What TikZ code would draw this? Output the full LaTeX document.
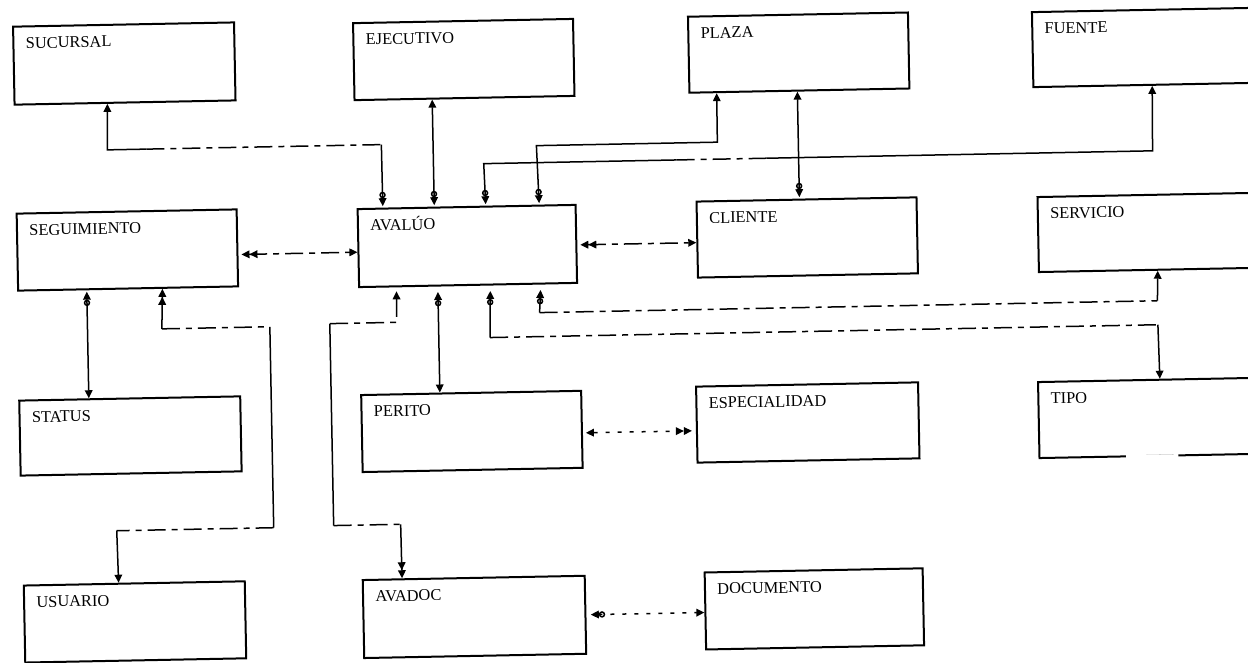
\documentclass[tikz,border=0pt]{standalone}
\usepackage{fontspec}
\setmainfont{Liberation Serif}
\usetikzlibrary{arrows.meta,calc}
\tikzset{
  ta/.tip={Triangle[length=4pt,width=3.8pt]},
  ts/.tip={Triangle[length=4pt,width=3.8pt,sep=0.7pt]},
  ci/.tip={Circle[open,length=3.2pt]},
  box/.style={draw, line width=1pt, inner sep=0pt, anchor=north west},
  lbl/.style={anchor=base west, inner sep=0pt, xshift=6.5pt, yshift=-11.5pt, font=\fontsize{8.2}{9}\selectfont},
  ttl/.style={label={[lbl]north west:#1}},
  con/.style={line width=0.75pt},
  dsh/.style={con, dash pattern=on 9pt off 3pt on 3pt off 3pt},
  dotl/.style={con, dash pattern=on 2pt off 4pt},
}
\begin{document}
\begin{tikzpicture}[x=0.5pt,y=-0.5pt]
\fill[white] (0,0) rectangle (1248,663);
\useasboundingbox (0,0) rectangle (1248,663);
\clip (0,0) rectangle (1248,663);
\begin{scope}[rotate around={1.1:(624,331)}, transform shape]
% boxes
\node[box, minimum width=110.5pt, minimum height=39pt, ttl=SUCURSAL] (suc) at (18,14) {};
\node[box, minimum width=110pt, minimum height=38.5pt, ttl=EJECUTIVO] (eje) at (358,17) {};
\node[box, minimum width=110pt, minimum height=38pt, ttl=PLAZA] (pla) at (693,17) {};
\node[box, minimum width=135pt, minimum height=37.5pt, ttl=FUENTE] (fue) at (1037,19) {};
\node[box, minimum width=110pt, minimum height=38.5pt, ttl=SEGUIMIENTO] (seg) at (18,201) {};
\node[box, minimum width=109pt, minimum height=39pt, ttl=AVALÚO] (ava) at (359,203) {};
\node[box, minimum width=110pt, minimum height=38pt, ttl=CLIENTE] (cli) at (698,202) {};
\node[box, minimum width=135pt, minimum height=37.5pt, ttl=SERVICIO] (ser) at (1039,204) {};
\node[box, minimum width=110.5pt, minimum height=37.5pt, ttl=STATUS] (sta) at (17,388) {};
\node[box, minimum width=110pt, minimum height=38.5pt, ttl=PERITO] (per) at (359,389) {};
\node[box, minimum width=111pt, minimum height=38pt, ttl=ESPECIALIDAD] (esp) at (694,387) {};
\node[box, minimum width=135pt, minimum height=38pt, ttl=TIPO] (tip) at (1036,389) {};
\node[box, minimum width=110.5pt, minimum height=38.5pt, ttl=USUARIO] (usu) at (18,573) {};
\node[box, minimum width=111pt, minimum height=39pt, ttl=AVADOC] (avd) at (357,574) {};
\node[box, minimum width=109pt, minimum height=38.5pt, ttl=DOCUMENTO] (doc) at (699,573) {};
% gap in the bottom line of TIPO
\draw[white, line width=2.2pt] ($(tip.south west)!0.3222!(tip.south east)$) -- ($(tip.south west)!0.5148!(tip.south east)$);
% 1 SUCURSAL - AVALUO
\coordinate (k1a) at (111,140);
\coordinate (k1b) at (150,140);
\coordinate (k1c) at (385,140);
\draw[con, {ta[]}-] ($(suc.south west)!0.4208!(suc.south east)$) -- (k1a) -- (k1b);
\draw[dsh] (k1b) -- (k1c);
\draw[con, -{ci[] ts[]}] (k1c) -- ($(ava.north west)!0.1193!(ava.north east)$);
% 2 EJECUTIVO - AVALUO
\draw[con, {ta[]}-{ci[] ts[]}] ($(eje.south west)!0.3545!(eje.south east)$) -- ($(ava.north west)!0.3532!(ava.north east)$);
% 3 PLAZA - AVALUO
\coordinate (k3a) at (721,144);
\coordinate (k3b) at (540,144);
\draw[con, {ta[]}-{ci[] ts[]}] ($(pla.south west)!0.1273!(pla.south east)$) -- (k3a) -- (k3b) -- ($(ava.north west)!0.8303!(ava.north east)$);
% 4 FUENTE - AVALUO
\coordinate (k4a) at (1156,161);
\coordinate (k4b) at (770,161);
\coordinate (k4c) at (680,161);
\coordinate (k4d) at (487,161);
\draw[con, {ta[]}-] ($(fue.south west)!0.4407!(fue.south east)$) -- (k4a) -- (k4b);
\draw[dsh] (k4b) -- (k4c);
\draw[con, -{ci[] ts[]}] (k4c) -- (k4d) -- ($(ava.north west)!0.5872!(ava.north east)$);
% 5 PLAZA - CLIENTE
\draw[con, {ta[]}-{ci[] ts[]}] ($(pla.south west)!0.4909!(pla.south east)$) -- ($(cli.north west)!0.4682!(cli.north east)$);
% 6 SEGUIMIENTO - AVALUO
\draw[dsh, {ta[] ta[]}-{ta[]}, shorten <=1.5pt] ($(seg.north east)!0.5844!(seg.south east)$) -- ($(ava.north west)!0.5513!(ava.south west)$);
% 7 AVALUO - CLIENTE
\draw[dsh, {ta[] ta[]}-{ta[]}, shorten <=1.5pt] ($(ava.north east)!0.5128!(ava.south east)$) -- ($(cli.north west)!0.5395!(cli.south west)$);
% 8 SEGUIMIENTO - STATUS
\draw[con, {ts[] ci[]}-{ta[]}] ($(seg.south west)!0.3136!(seg.south east)$) -- ($(sta.north west)!0.3167!(sta.north east)$);
% 9 SEGUIMIENTO - USUARIO
\coordinate (k9a) at (162,320);
\coordinate (k9b) at (270,320);
\coordinate (k9c) at (270,521);
\coordinate (k9d) at (113,521);
\draw[con, {ta[] ta[]}-] ($(seg.south west)!0.6545!(seg.south east)$) -- (k9a);
\draw[dsh] (k9a) -- (k9b);
\draw[con] (k9b) -- (k9c);
\draw[dsh] (k9c) -- (k9d);
\draw[con, -{ta[]}] (k9d) -- ($(usu.north west)!0.4299!(usu.north east)$);
% 10 AVALUO - AVADOC
\coordinate (k10a) at (397,318);
\coordinate (k10b) at (330,318);
\coordinate (k10c) at (330,520);
\coordinate (k10d) at (397,520);
\draw[dsh, {ta[]}-, shorten <=2pt] ($(ava.south west)!0.1743!(ava.south east)$) -- (k10a) -- (k10b);
\draw[con] (k10b) -- (k10c);
\draw[dsh] (k10c) -- (k10d);
\draw[con, -{ta[] ta[]}] (k10d) -- ($(avd.north west)!0.1802!(avd.north east)$);
% 11 AVALUO - PERITO
\draw[con, {ts[] ci[]}-{ta[]}, shorten <=2pt] ($(ava.south west)!0.3624!(ava.south east)$) -- ($(per.north west)!0.3591!(per.north east)$);
% 12 AVALUO - TIPO
\coordinate (k12a) at (490,335);
\coordinate (k12b) at (1158,335);
\draw[con, {ts[] ci[]}-, shorten <=2pt] ($(ava.south west)!0.6009!(ava.south east)$) -- (k12a);
\draw[dsh] (k12a) -- (k12b);
\draw[con, -{ta[]}] (k12b) -- ($(tip.north west)!0.4519!(tip.north east)$);
% 13 AVALUO - SERVICIO
\coordinate (k13a) at (540,311);
\coordinate (k13b) at (1158,311);
\draw[con, {ts[] ci[]}-, shorten <=2pt] ($(ava.south west)!0.8303!(ava.south east)$) -- (k13a);
\draw[dsh] (k13a) -- (k13b);
\draw[con, -{ta[]}] (k13b) -- ($(ser.south west)!0.4407!(ser.south east)$);
% 14 PERITO - ESPECIALIDAD
\draw[dotl, {ta[]}-{ta[] ta[]}, shorten <=1.5pt, shorten >=2pt] ($(per.north east)!0.5455!(per.south east)$) -- ($(esp.north west)!0.5789!(esp.south west)$);
% 15 AVADOC - DOCUMENTO
\draw[dotl, {ts[] ci[]}-{ta[]}, shorten <=1.5pt] ($(avd.north east)!0.5!(avd.south east)$) -- ($(doc.north west)!0.5195!(doc.south west)$);
\end{scope}
\end{tikzpicture}
\end{document}
